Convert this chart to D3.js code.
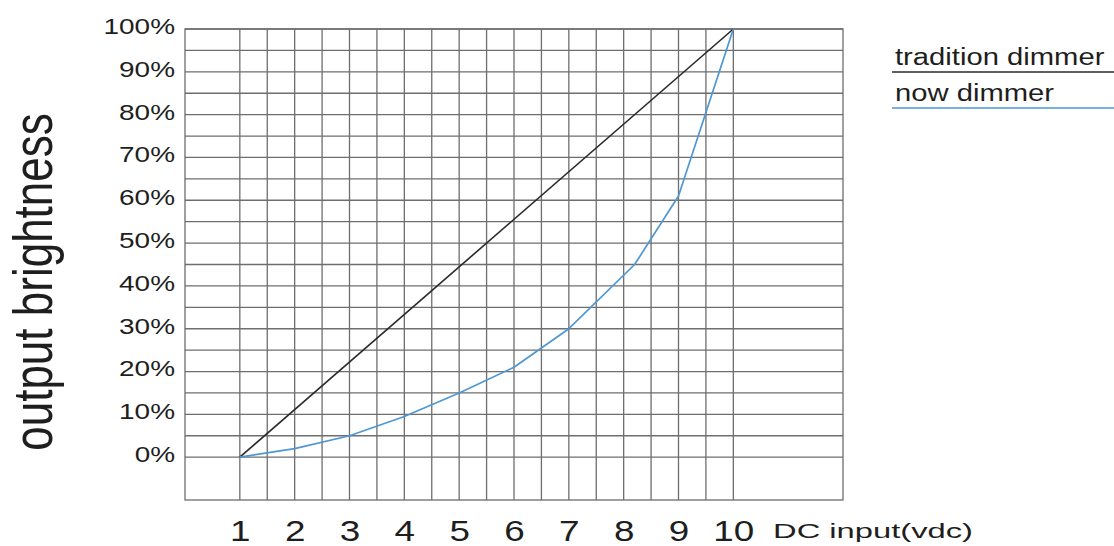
<!DOCTYPE html>
<html>
<head>
<meta charset="utf-8">
<script src="https://cdn.jsdelivr.net/npm/d3@7"></script>
<style>
  html, body { margin: 0; padding: 0; background: #fff; }
  svg { display: block; font-family: "Liberation Sans", Arial, sans-serif; }
</style>
</head>
<body>
<svg id="chart" width="1114" height="546"></svg>
<script>
// ---- data ----
const xTickValues = [1, 2, 3, 4, 5, 6, 7, 8, 9, 10];
const yTickValues = [0, 10, 20, 30, 40, 50, 60, 70, 80, 90, 100];
const traditionX = [1, 10];
const traditionY = [0, 100];
const nowX = [1, 2, 3, 4, 5, 6, 7, 8.2, 9, 10];
const nowY = [0, 2, 5, 9.5, 15, 21, 30, 45, 61, 100];
const seriesNames = ["tradition dimmer", "now dimmer"];
const seriesColors = ["#2a2a2a", "#4f97d2"];
const xTitle = "DC input(vdc)";
const yTitle = "output brightness";

// ---- layout ----
const W = 1114, H = 546;
const margin = { left: 185, right: 271, top: 29, bottom: 46 };
const stretch = 1.27;   // horizontal stretch of the lettering in the reference

const svg = d3.select("#chart");
const x = d3.scaleLinear().domain([0, 12]).range([margin.left, W - margin.right]);
const y = d3.scaleLinear().domain([-10, 100]).range([H - margin.bottom, margin.top]);

function widen(sel, factor) {
  sel.each(function () {
    const len = this.getComputedTextLength();
    d3.select(this).attr("textLength", len * factor).attr("lengthAdjust", "spacingAndGlyphs");
  });
}

// ---- grid ----
const grid = svg.append("g").attr("stroke", "#6e6e6e").attr("stroke-width", 1.3).attr("fill", "none");
const vLines = d3.range(1, 10.001, 0.5);
grid.selectAll("line.v").data(vLines).join("line")
  .attr("x1", d => x(d)).attr("x2", d => x(d))
  .attr("y1", y(100)).attr("y2", y(-10));
const hLines = d3.range(0, 100.001, 5);
grid.selectAll("line.h").data(hLines).join("line")
  .attr("x1", x(0)).attr("x2", x(12))
  .attr("y1", d => y(d)).attr("y2", d => y(d));
grid.append("rect")
  .attr("x", x(0)).attr("y", y(100))
  .attr("width", x(12) - x(0)).attr("height", y(-10) - y(100));

// ---- axes (labels only) ----
const yAxis = svg.append("g")
  .attr("transform", `translate(${x(0)},0)`)
  .call(d3.axisLeft(y).tickValues(yTickValues).tickFormat(d => d + "%").tickSize(0).tickPadding(10));
yAxis.select(".domain").remove();
yAxis.selectAll("text")
  .attr("font-size", 22).attr("font-family", "Liberation Sans, Arial, sans-serif")
  .attr("fill", "#1e1e1e").attr("dy", "0.2em");
widen(yAxis.selectAll("text"), stretch);

const xAxis = svg.append("g")
  .attr("transform", `translate(0,${y(-10)})`)
  .call(d3.axisBottom(x).tickValues(xTickValues).tickFormat(d3.format("d")).tickSize(0));
xAxis.select(".domain").remove();
xAxis.selectAll("text")
  .attr("font-size", 29).attr("font-family", "Liberation Sans, Arial, sans-serif")
  .attr("fill", "#1e1e1e").attr("y", 41).attr("dy", 0);
widen(xAxis.selectAll("text"), stretch);

svg.append("text")
  .attr("x", 773).attr("y", 538)
  .attr("font-size", 21).attr("fill", "#1e1e1e")
  .attr("textLength", 200).attr("lengthAdjust", "spacingAndGlyphs")
  .text(xTitle);

svg.append("text")
  .attr("transform", `translate(52,282) scale(${stretch},1) rotate(-90)`)
  .attr("text-anchor", "middle")
  .attr("font-size", 44).attr("fill", "#1e1e1e")
  .text(yTitle);

// ---- series ----
const line = d3.line().x(d => x(d[0])).y(d => y(d[1]));
svg.append("path")
  .datum(d3.zip(traditionX, traditionY))
  .attr("d", line).attr("fill", "none")
  .attr("stroke", seriesColors[0]).attr("stroke-width", 1.6);
svg.append("path")
  .datum(d3.zip(nowX, nowY))
  .attr("d", line).attr("fill", "none")
  .attr("stroke", seriesColors[1]).attr("stroke-width", 1.7)
  .attr("stroke-linejoin", "round");

// ---- legend ----
const legendY = [65, 101];
const leg = svg.append("g");
seriesNames.forEach((name, i) => {
  const t = leg.append("text")
    .attr("x", 895).attr("y", legendY[i])
    .attr("font-size", 23).attr("fill", "#1e1e1e")
    .text(name);
  widen(t, stretch);
  leg.append("line")
    .attr("x1", 892).attr("x2", W)
    .attr("y1", legendY[i] + 7).attr("y2", legendY[i] + 7)
    .attr("stroke", seriesColors[i]).attr("stroke-width", 1.6);
});
</script>
</body>
</html>
